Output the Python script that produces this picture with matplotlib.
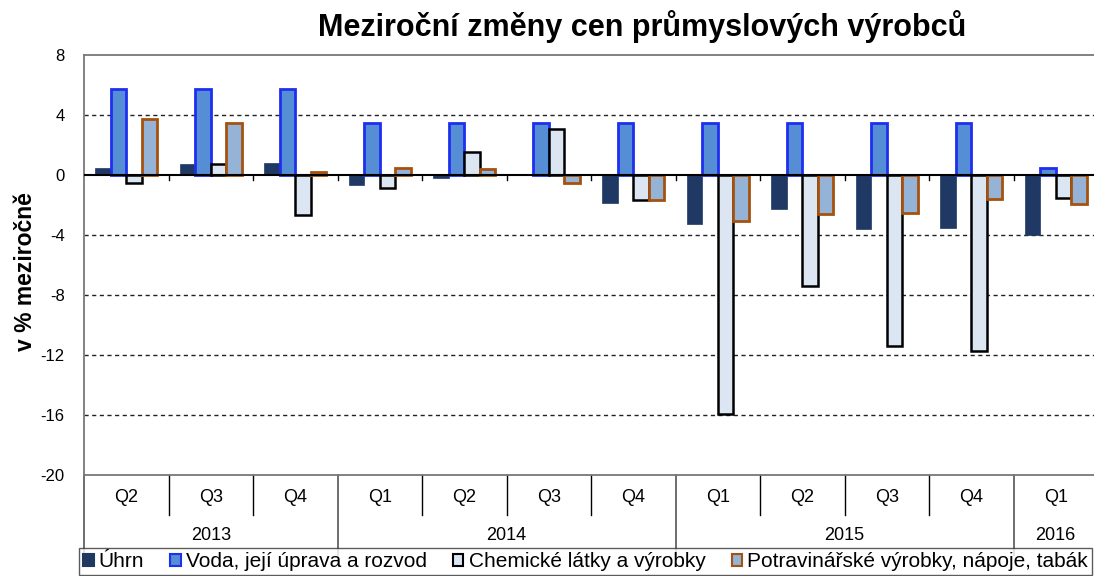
import matplotlib.pyplot as plt
import numpy as np
from matplotlib.transforms import blended_transform_factory
from matplotlib.patches import Patch

plt.rcParams['font.family'] = ['Liberation Sans', 'DejaVu Sans']
plt.rcParams['axes.unicode_minus'] = False

# data
quarters = ['Q2', 'Q3', 'Q4', 'Q1', 'Q2', 'Q3', 'Q4', 'Q1', 'Q2', 'Q3', 'Q4', 'Q1']
years = ['2013', '2014', '2015', '2016']
year_counts = [3, 4, 4, 1]

uhrn = [0.49, 0.71, 0.78, -0.67, -0.18, 0.02, -1.89, -3.27, -2.27, -3.58, -3.51, -4.0]
voda = [5.76, 5.76, 5.76, 3.44, 3.44, 3.44, 3.44, 3.44, 3.44, 3.44, 3.44, 0.49]
chem = [-0.56, 0.71, -2.67, -0.84, 1.51, 3.04, -1.67, -15.95, -7.38, -11.38, -11.73, -1.53]
potrav = [3.73, 3.44, 0.2, 0.44, 0.42, -0.53, -1.67, -3.07, -2.62, -2.56, -1.6, -1.91]

series_names = ['Úhrn', 'Voda, její úprava a rozvod', 'Chemické látky a výrobky',
                'Potravinářské výrobky, nápoje, tabák']
fills = ['#1F3864', '#558ED5', '#DCE6F2', '#95B3D7']
edges = ['#1F3864', '#1F2FF0', '#000000', '#A5520F']
edge_w = [0.5, 2.0, 1.8, 2.0]

fig = plt.figure(figsize=(10.94, 5.76), dpi=100)
ax = fig.add_axes([84 / 1094, 1 - 475 / 576, 1014 / 1094, 420 / 576])

x = np.arange(len(quarters))
w = 0.183
for i, vals in enumerate([uhrn, voda, chem, potrav]):
    ax.bar(x + (i - 1.5) * w, vals, width=w, color=fills[i], edgecolor=edges[i],
           linewidth=edge_w[i], zorder=3)

ax.set_xlim(-0.5, len(quarters) - 0.5)
ax.set_ylim(-20, 8)
ax.set_yticks(np.arange(-20, 9, 4))
ax.tick_params(axis='y', labelsize=12, length=0, pad=14)
ax.set_xticks([])
for yv in [4, -4, -8, -12, -16]:
    ax.axhline(yv, color='#222222', lw=1, ls=(0, (3, 2.5)), zorder=1)
ax.axhline(0, color='black', lw=1.5, zorder=4)

for s in ax.spines.values():
    s.set_color('#777777')
    s.set_linewidth(1.3)

# small ticks on zero line
for b in np.arange(0.5, len(quarters) - 0.5, 1):
    ax.plot([b, b], [0, -0.35], color='black', lw=1, zorder=4)

# two-level category axis
tr = blended_transform_factory(ax.transData, ax.transAxes)
for xi, q in zip(x, quarters):
    ax.text(xi, -0.053, q, transform=tr, ha='center', va='center', fontsize=13)
year_bounds = np.concatenate([[0], np.cumsum(year_counts)]) - 0.5
for b in np.arange(0.5, len(quarters) - 0.5, 1):
    if b not in year_bounds:
        ax.plot([b, b], [0, -0.095], transform=tr, color='black', lw=1, clip_on=False)
for b in year_bounds:
    ax.plot([b, b], [0, -0.19], transform=tr, color='#555555', lw=1.2, clip_on=False)
for i, yr in enumerate(years):
    c = (year_bounds[i] + year_bounds[i + 1]) / 2
    ax.text(c, -0.143, yr, transform=tr, ha='center', va='center', fontsize=13)

ax.set_ylabel('v % meziročně', fontsize=16.5, fontweight='bold')
ax.yaxis.set_label_coords(-0.046, 0.485)

fig.text(642 / 1094, 1 - 27 / 576, 'Meziroční změny cen průmyslových výrobců',
         ha='center', va='center', fontsize=22, fontweight='bold')

handles = [Patch(facecolor=fills[i], edgecolor=edges[i], linewidth=1.5) for i in range(4)]
leg = fig.legend(handles, series_names, loc='upper left',
                 bbox_to_anchor=(79 / 1094, 1 - 548 / 576), ncol=4, fontsize=15,
                 frameon=True, fancybox=False, edgecolor='#333333',
                 handlelength=0.5, handleheight=0.5, handletextpad=0.25,
                 columnspacing=1.25, borderpad=0.2, borderaxespad=0)
leg.get_frame().set_linewidth(1)

fig.savefig('out.png', dpi=100)
